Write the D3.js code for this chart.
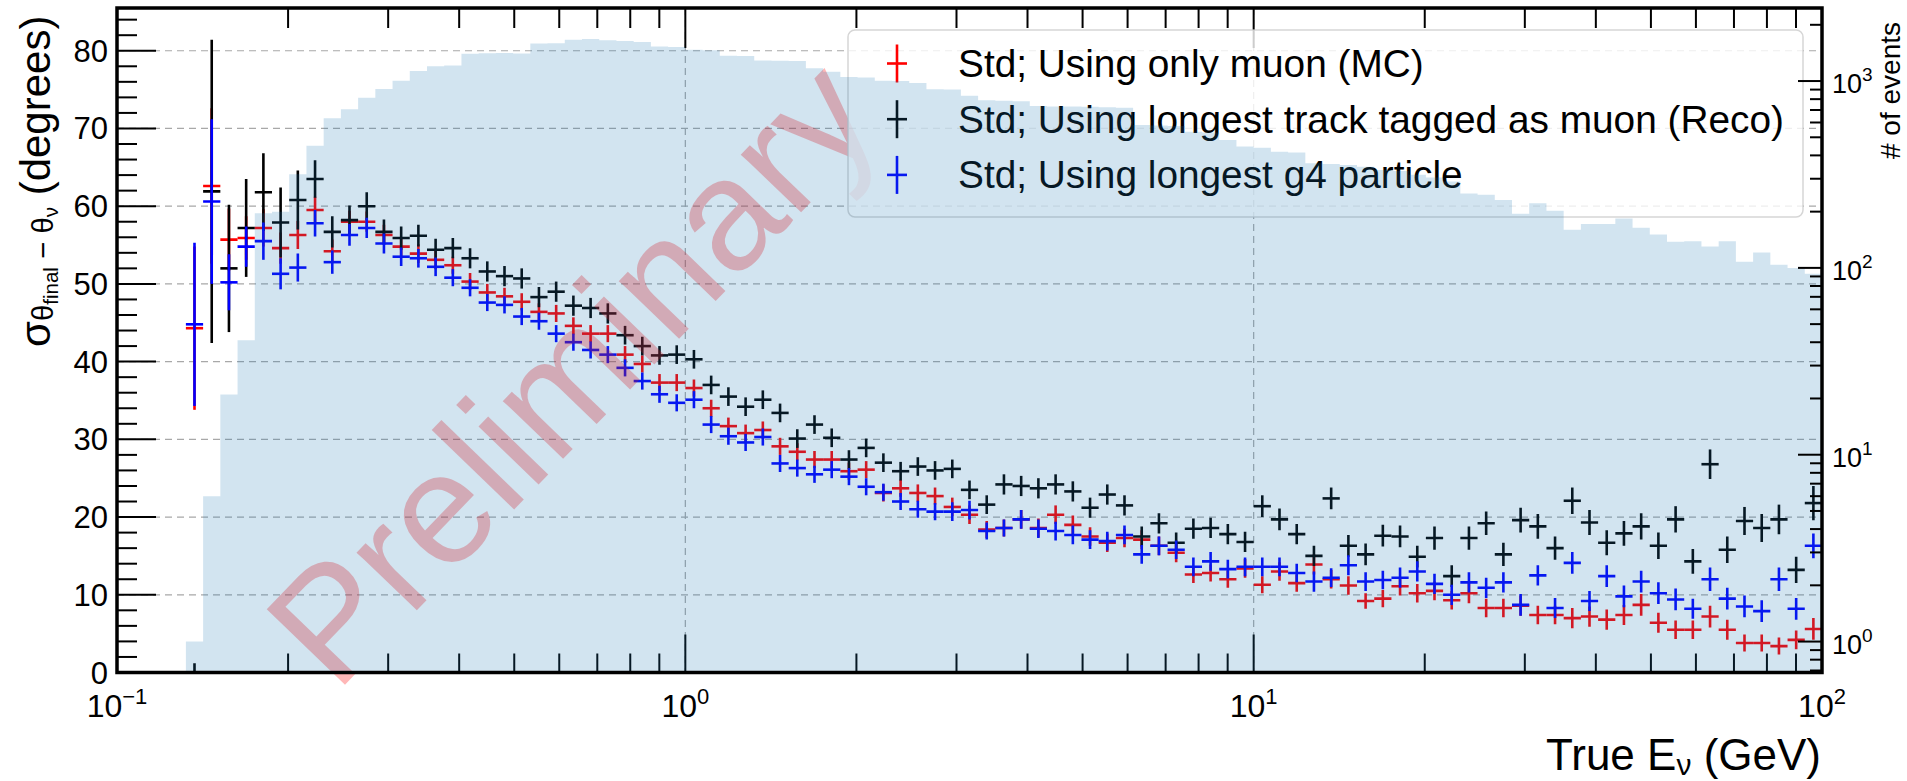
<!DOCTYPE html>
<html>
<head>
<meta charset="utf-8">
<script src="https://cdn.jsdelivr.net/npm/d3@7"></script>
<style>
  html, body { margin: 0; padding: 0; background: #ffffff; }
  svg { display: block; font-family: "Liberation Sans", Arial, Helvetica, sans-serif; }
</style>
</head>
<body>
<svg id="chart" width="1907" height="781"></svg>
<script>
// ---- Binning: 99 logarithmic bins of true neutrino energy, 0.1 - 100 GeV ----
const binLow = 0.1, binHigh = 100, nBins = 99;
const firstBin = 4;               // first bin holding a resolution value

// ---- Angular resolution (std of theta_final - theta_nu, degrees), bins 4..98 ----
const stdMuonMC = [
  44.3, 62.6, 55.7, 55.9, 57.2, 54.6, 56.3, 59.5, 54.2, 58.0,
  58.0, 56.3, 54.8, 53.9, 53.1, 52.4, 50.3, 48.9, 48.4, 47.7,
  46.4, 46.2, 44.6, 43.6, 43.6, 40.9, 39.7, 37.3, 37.3, 36.6,
  34.0, 31.7, 30.8, 31.2, 29.1, 28.4, 27.4, 27.4, 25.9, 26.1,
  23.1, 23.7, 23.1, 22.7, 21.3, 20.3, 18.4, 18.6, 19.7, 18.6,
  20.3, 19.0, 17.5, 16.7, 17.3, 17.1, 16.3, 15.4, 12.6, 12.8,
  12.0, 13.4, 11.3, 13.0, 11.5, 13.9, 12.0, 11.2, 9.2, 9.5,
  11.1, 10.2, 10.5, 9.3, 10.2, 8.3, 8.3, 8.6, 7.4, 7.4,
  7.0, 7.2, 6.8, 7.4, 8.7, 6.4, 5.5, 5.5, 7.2, 5.5,
  3.8, 3.8, 3.4, 4.2, 5.6
];
const stdMuonMCErr = [
  10.5, 10.0, 4.0, 2.8, 2.4, 2.0, 1.8, 1.7, 1.5, 1.4,
  1.3, 1.3, 1.2, 1.2, 1.2, 1.1, 1.1, 1.1, 1.1, 1.1,
  1.1, 1.1, 1.1, 1.1, 1.1, 1.1, 1.1, 1.1, 1.1, 1.1,
  1.1, 1.1, 1.1, 1.1, 1.1, 1.1, 1.1, 1.1, 1.1, 1.1,
  1.1, 1.1, 1.1, 1.1, 1.2, 1.2, 1.1, 1.1, 1.2, 1.2,
  1.2, 1.2, 1.2, 1.2, 1.2, 1.2, 1.2, 1.2, 1.1, 1.1,
  1.1, 1.2, 1.1, 1.2, 1.1, 1.3, 1.2, 1.2, 1.0, 1.1,
  1.2, 1.2, 1.2, 1.2, 1.3, 1.2, 1.2, 1.3, 1.2, 1.2,
  1.3, 1.3, 1.3, 1.3, 1.4, 1.3, 1.2, 1.2, 1.4, 1.3,
  1.1, 1.1, 1.1, 1.2, 1.4
];
const stdLongestTrackReco = [
  0.0, 61.9, 52.0, 57.2, 61.8, 57.9, 60.8, 63.5, 56.7, 58.2,
  60.0, 56.7, 55.9, 56.2, 54.4, 54.6, 53.3, 51.6, 51.0, 50.7,
  48.3, 49.0, 47.2, 46.9, 46.2, 43.4, 42.0, 40.8, 40.9, 40.3,
  37.0, 35.5, 34.2, 35.1, 33.4, 30.1, 31.9, 30.2, 27.4, 28.9,
  27.0, 25.9, 26.5, 26.0, 26.2, 23.5, 21.6, 24.2, 24.0, 23.7,
  24.2, 23.3, 21.2, 22.9, 21.5, 17.5, 19.2, 16.7, 18.5, 18.6,
  17.8, 16.8, 21.4, 19.7, 17.8, 15.0, 22.4, 16.3, 15.2, 17.6,
  17.5, 14.9, 17.3, 12.4, 17.3, 19.2, 15.2, 19.6, 18.8, 16.0,
  22.1, 19.3, 16.7, 17.9, 18.8, 16.3, 19.7, 14.3, 26.8, 15.8,
  19.5, 18.6, 19.7, 13.2, 21.8
];
const stdLongestTrackRecoErr = [
  1.2, 19.5, 8.2, 6.3, 5.0, 4.5, 3.8, 2.4, 2.0, 1.9,
  1.8, 1.6, 1.5, 1.4, 1.4, 1.3, 1.3, 1.3, 1.3, 1.3,
  1.3, 1.3, 1.3, 1.3, 1.3, 1.2, 1.2, 1.2, 1.2, 1.2,
  1.2, 1.2, 1.2, 1.2, 1.2, 1.2, 1.2, 1.2, 1.2, 1.2,
  1.2, 1.2, 1.2, 1.2, 1.2, 1.2, 1.2, 1.3, 1.3, 1.3,
  1.3, 1.3, 1.3, 1.3, 1.3, 1.3, 1.3, 1.3, 1.3, 1.3,
  1.3, 1.3, 1.4, 1.4, 1.3, 1.3, 1.4, 1.4, 1.4, 1.4,
  1.4, 1.4, 1.5, 1.4, 1.5, 1.5, 1.5, 1.6, 1.6, 1.5,
  1.7, 1.6, 1.6, 1.6, 1.7, 1.7, 1.7, 1.6, 1.9, 1.7,
  1.8, 1.8, 1.9, 1.7, 2.2
];
const stdLongestG4 = [
  44.8, 60.6, 50.2, 54.8, 55.5, 51.3, 52.1, 57.8, 52.8, 56.3,
  57.2, 55.2, 53.5, 53.3, 52.2, 50.8, 49.5, 47.6, 47.3, 45.8,
  45.2, 43.6, 42.5, 41.5, 40.9, 39.2, 37.5, 35.8, 34.7, 35.1,
  31.9, 30.4, 29.6, 30.3, 26.9, 26.3, 25.5, 26.1, 25.2, 23.9,
  23.2, 22.0, 21.0, 20.7, 20.7, 20.9, 18.2, 18.6, 19.7, 18.5,
  18.2, 17.7, 17.1, 16.9, 17.7, 15.2, 16.3, 15.8, 13.6, 14.3,
  13.3, 13.6, 13.6, 13.6, 12.8, 11.7, 12.2, 13.8, 11.7, 11.9,
  12.2, 13.0, 11.4, 10.0, 11.6, 10.9, 11.6, 8.7, 12.5, 8.3,
  14.1, 9.2, 12.4, 9.8, 11.7, 10.2, 9.4, 8.2, 12.0, 9.5,
  8.5, 7.9, 12.0, 8.2, 16.3
];
const stdLongestG4Err = [
  10.5, 10.6, 3.6, 2.6, 2.4, 2.0, 1.8, 1.7, 1.5, 1.4,
  1.3, 1.3, 1.2, 1.2, 1.2, 1.1, 1.1, 1.1, 1.1, 1.1,
  1.1, 1.1, 1.1, 1.1, 1.1, 1.1, 1.1, 1.1, 1.1, 1.1,
  1.1, 1.1, 1.1, 1.1, 1.1, 1.1, 1.1, 1.1, 1.1, 1.1,
  1.1, 1.1, 1.1, 1.1, 1.2, 1.2, 1.1, 1.1, 1.2, 1.2,
  1.2, 1.2, 1.2, 1.2, 1.2, 1.2, 1.2, 1.2, 1.2, 1.2,
  1.2, 1.2, 1.2, 1.2, 1.2, 1.3, 1.2, 1.3, 1.2, 1.2,
  1.3, 1.3, 1.3, 1.3, 1.3, 1.3, 1.3, 1.4, 1.3, 1.3,
  1.4, 1.3, 1.4, 1.4, 1.4, 1.4, 1.4, 1.3, 1.5, 1.4,
  1.4, 1.4, 1.5, 1.4, 1.6
];

// ---- Event counts per energy bin (bins 0..98) ----
const eventCounts = [
  0, 0, 0, 0, 1, 6, 21, 41, 196, 200,
  317, 450, 632, 707, 815, 907, 1005, 1132, 1200, 1210,
  1400, 1410, 1415, 1405, 1590, 1595, 1665, 1680, 1655, 1640,
  1620, 1530, 1520, 1470, 1460, 1365, 1360, 1290, 1285, 1280,
  1170, 1120, 1050, 1045, 1005, 1000, 975, 905, 900, 835,
  790, 785, 780, 735, 730, 730, 728, 725, 720, 582,
  578, 575, 536, 530, 484, 446, 440, 419, 415, 363,
  360, 355, 348, 334, 330, 315, 305, 290, 250, 246,
  231, 195, 222, 202, 160, 172, 172, 184, 164, 151,
  138, 139, 130, 139, 108, 121, 104, 100, 93
];

// ---- Axis ticks and labels ----
const yTicksMajor = [0, 10, 20, 30, 40, 50, 60, 70, 80];
const yTicksMinor = [2, 4, 6, 8, 12, 14, 16, 18, 22, 24, 26, 28, 32, 34, 36, 38, 42, 44, 46, 48,
                     52, 54, 56, 58, 62, 64, 66, 68, 72, 74, 76, 78, 82, 84];
const xDecades = [0.1, 1, 10, 100];
const xDecadeExp = ["−1", "0", "1", "2"];
const xMinorMult = [2, 3, 4, 5, 6, 7, 8, 9];
const rDecades = [1, 10, 100, 1000];
const rDecadeExp = ["0", "1", "2", "3"];
const rMinor = [0.7, 0.8, 0.9, 2, 3, 4, 5, 6, 7, 8, 9, 20, 30, 40, 50, 60, 70, 80, 90,
                200, 300, 400, 500, 600, 700, 800, 900, 2000];

const legendLabels = [
  "Std; Using only muon (MC)",
  "Std; Using longest track tagged as muon (Reco)",
  "Std; Using longest g4 particle"
];
const seriesColors = ["red", "black", "blue"];

// ---- Layout ----
const plot = { left: 117, right: 1822, top: 8, bottom: 672.5 };

const x = d3.scaleLog().domain([binLow, binHigh]).range([plot.left, plot.right]);
const yL = d3.scaleLinear().domain([0, 85.5]).range([plot.bottom, plot.top]);
const yR = d3.scaleLog().domain([0.683, 2460]).range([plot.bottom, plot.top]);

const lgLow = Math.log10(binLow), lgStep = (Math.log10(binHigh) - lgLow) / nBins;
const edges = d3.range(nBins + 1).map(i => Math.pow(10, lgLow + i * lgStep));
const centers = d3.range(nBins).map(i => Math.sqrt(edges[i] * edges[i + 1]));

const svg = d3.select("#chart");
svg.append("defs").append("clipPath").attr("id", "plotClip")
  .append("rect")
  .attr("x", plot.left).attr("y", plot.top)
  .attr("width", plot.right - plot.left).attr("height", plot.bottom - plot.top);

// ================= main axes content =================
const main = svg.append("g");

// dashed grid at the major ticks
const grid = main.append("g")
  .attr("stroke", "#a8a8a8").attr("stroke-width", 1.2).attr("stroke-dasharray", "7,5");
yTicksMajor.filter(v => v > 0).forEach(v => {
  grid.append("line").attr("x1", plot.left).attr("x2", plot.right)
    .attr("y1", yL(v)).attr("y2", yL(v));
});
xDecades.filter(v => v > binLow && v < binHigh).forEach(v => {
  grid.append("line").attr("x1", x(v)).attr("x2", x(v))
    .attr("y1", plot.top).attr("y2", plot.bottom);
});

// error-bar crosses: horizontal bar spans the bin, vertical bar is +-error
function drawSeries(values, errors, color) {
  const g = main.append("g").attr("clip-path", "url(#plotClip)")
    .attr("stroke", color).attr("stroke-width", 2.6).attr("fill", "none");
  values.forEach((v, i) => {
    const k = firstBin + i;
    g.append("line")
      .attr("x1", x(edges[k])).attr("x2", x(edges[k + 1]))
      .attr("y1", yL(v)).attr("y2", yL(v));
    g.append("line")
      .attr("x1", x(centers[k])).attr("x2", x(centers[k]))
      .attr("y1", yL(v - errors[i])).attr("y2", yL(v + errors[i]));
  });
}
drawSeries(stdMuonMC, stdMuonMCErr, seriesColors[0]);
drawSeries(stdLongestTrackReco, stdLongestTrackRecoErr, seriesColors[1]);
drawSeries(stdLongestG4, stdLongestG4Err, seriesColors[2]);

// watermark
main.append("text")
  .attr("transform", "translate(336,694) rotate(-46)")
  .attr("font-size", 158).attr("fill", "red").attr("opacity", 0.28)
  .text("Preliminary");

// ticks of the main axes (left, bottom, top)
const ticks = main.append("g").attr("stroke", "#000").attr("stroke-width", 2);
yTicksMajor.forEach(v => ticks.append("line")
  .attr("x1", plot.left).attr("x2", plot.left + 39).attr("y1", yL(v)).attr("y2", yL(v)));
yTicksMinor.forEach(v => ticks.append("line")
  .attr("x1", plot.left).attr("x2", plot.left + 20).attr("y1", yL(v)).attr("y2", yL(v)));
const xMinor = [];
xDecades.slice(0, 3).forEach(d => xMinorMult.forEach(m => xMinor.push(d * m)));
xDecades.forEach(v => {
  ticks.append("line").attr("x1", x(v)).attr("x2", x(v)).attr("y1", plot.bottom).attr("y2", plot.bottom - 38);
  ticks.append("line").attr("x1", x(v)).attr("x2", x(v)).attr("y1", plot.top).attr("y2", plot.top + 40);
});
xMinor.forEach(v => {
  ticks.append("line").attr("x1", x(v)).attr("x2", x(v)).attr("y1", plot.bottom).attr("y2", plot.bottom - 19);
  ticks.append("line").attr("x1", x(v)).attr("x2", x(v)).attr("y1", plot.top).attr("y2", plot.top + 20);
});

// legend
const legend = main.append("g");
legend.append("rect")
  .attr("x", 848).attr("y", 30).attr("width", 955).attr("height", 187)
  .attr("rx", 7).attr("ry", 7)
  .attr("fill", "#ffffff").attr("fill-opacity", 0.8)
  .attr("stroke", "#cccccc").attr("stroke-opacity", 0.8).attr("stroke-width", 1.5);
legendLabels.forEach((label, i) => {
  const cy = 63.5 + i * 55.7;
  const lg = legend.append("g").attr("stroke", seriesColors[i]).attr("stroke-width", 2.6);
  lg.append("line").attr("x1", 897).attr("x2", 897).attr("y1", cy - 19).attr("y2", cy + 19);
  lg.append("line").attr("x1", 887).attr("x2", 907).attr("y1", cy).attr("y2", cy);
  legend.append("text").attr("x", 958).attr("y", cy + 13.5)
    .attr("font-size", 38.8).attr("fill", "#000").text(label);
});

// ================= twin axes: event counts =================
const twin = svg.append("g");
const hp = d3.path();
let started = false;
eventCounts.forEach((c, k) => {
  if (c <= 0) return;
  if (!started) { hp.moveTo(x(edges[k]), plot.bottom); started = true; }
  hp.lineTo(x(edges[k]), yR(c));
  hp.lineTo(x(edges[k + 1]), yR(c));
});
hp.lineTo(x(edges[nBins]), plot.bottom);
hp.closePath();
twin.append("path").attr("d", hp.toString())
  .attr("fill", "#1f77b4").attr("fill-opacity", 0.2).attr("stroke", "none");

// right (log) axis ticks
const rt = twin.append("g").attr("stroke", "#000").attr("stroke-width", 2);
rDecades.forEach(v => rt.append("line")
  .attr("x1", plot.right).attr("x2", plot.right - 24).attr("y1", yR(v)).attr("y2", yR(v)));
rMinor.forEach(v => rt.append("line")
  .attr("x1", plot.right).attr("x2", plot.right - 12).attr("y1", yR(v)).attr("y2", yR(v)));

// frame
twin.append("rect")
  .attr("x", plot.left).attr("y", plot.top)
  .attr("width", plot.right - plot.left).attr("height", plot.bottom - plot.top)
  .attr("fill", "none").attr("stroke", "#000").attr("stroke-width", 3.5);

// ================= labels =================
const labels = svg.append("g").attr("fill", "#000");

yTicksMajor.forEach(v => labels.append("text")
  .attr("x", 108).attr("y", yL(v) + 11).attr("text-anchor", "end")
  .attr("font-size", 31).text(v));

xDecades.forEach((v, i) => {
  const t = labels.append("text").attr("x", x(v)).attr("y", 717)
    .attr("text-anchor", "middle").attr("font-size", 32);
  t.append("tspan").text("10");
  t.append("tspan").attr("font-size", 22).attr("dy", -13).text(xDecadeExp[i]);
});

rDecades.forEach((v, i) => {
  const t = labels.append("text").attr("x", 1832).attr("y", yR(v) + 12)
    .attr("font-size", 27);
  t.append("tspan").text("10");
  t.append("tspan").attr("font-size", 19).attr("dy", -12).text(rDecadeExp[i]);
});

// y title: sigma of (theta_final - theta_nu)
const yTitle = labels.append("text")
  .attr("transform", "translate(50,347) rotate(-90)")
  .attr("text-anchor", "start").attr("font-size", 42);
yTitle.append("tspan").text("σ");
yTitle.append("tspan").attr("font-size", 29.4).attr("dy", 3).text("θ");
yTitle.append("tspan").attr("font-size", 20.5).attr("dy", 5).text("final");
yTitle.append("tspan").attr("font-size", 29.4).attr("dy", -5).text(" − θ");
yTitle.append("tspan").attr("font-size", 20.5).attr("dy", 5).text("ν");
yTitle.append("tspan").attr("font-size", 42).attr("dy", -8).text(" (degrees)");

// x title
const xTitle = labels.append("text")
  .attr("x", 1821).attr("y", 770).attr("text-anchor", "end").attr("font-size", 44);
xTitle.append("tspan").text("True E");
xTitle.append("tspan").attr("font-size", 30).attr("dy", 5).text("ν");
xTitle.append("tspan").attr("font-size", 44).attr("dy", -5).text(" (GeV)");

// right title
labels.append("text")
  .attr("transform", "translate(1900,22) rotate(-90)")
  .attr("text-anchor", "end").attr("font-size", 28)
  .text("# of events");
</script>
</body>
</html>
